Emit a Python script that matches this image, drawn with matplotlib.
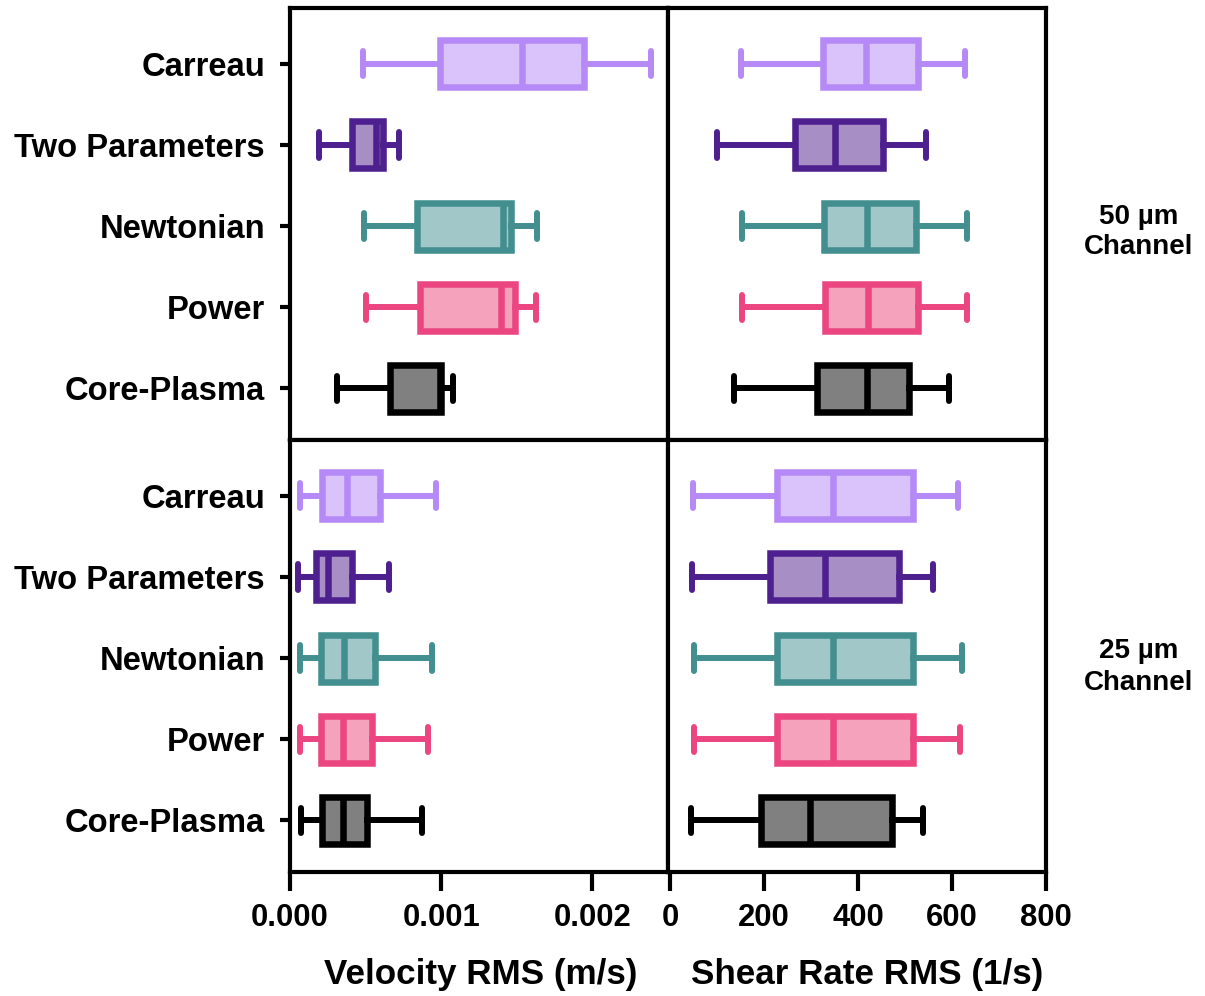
import matplotlib
matplotlib.use("Agg")
import matplotlib.pyplot as plt
from matplotlib.ticker import FixedLocator, FormatStrFormatter

# categories, top to bottom
models = ["Carreau", "Two Parameters", "Newtonian", "Power", "Core-Plasma"]
edge_colors = ["#B58AF7", "#4E1F8E", "#438F90", "#EB4680", "#000000"]
face_colors = ["#D9C3FA", "#A78FC6", "#A2C7C8", "#F5A2BC", "#808080"]

# 50 um channel, velocity RMS (m/s)
vel50_lo = [0.000483, 0.000194, 0.000492, 0.000503, 0.000309]
vel50_q1 = [0.000989, 0.000408, 0.000843, 0.000859, 0.000660]
vel50_med = [0.001534, 0.000570, 0.001406, 0.001395, 0.000993]
vel50_q3 = [0.001947, 0.000618, 0.001461, 0.001486, 0.001000]
vel50_hi = [0.002390, 0.000722, 0.001636, 0.001627, 0.001075]

# 50 um channel, shear rate RMS (1/s)
sr50_lo = [151, 100, 153, 154, 136]
sr50_q1 = [326, 266, 327, 330, 313]
sr50_med = [417, 352, 419, 422, 419]
sr50_q3 = [528, 453, 524, 528, 508]
sr50_hi = [628, 544, 631, 631, 594]

# 25 um channel, velocity RMS (m/s)
vel25_lo = [0.000066, 0.000053, 0.000066, 0.000066, 0.000075]
vel25_q1 = [0.000210, 0.000170, 0.000208, 0.000203, 0.000210]
vel25_med = [0.000375, 0.000254, 0.000360, 0.000353, 0.000353]
vel25_q3 = [0.000596, 0.000413, 0.000561, 0.000545, 0.000508]
vel25_hi = [0.000967, 0.000653, 0.000940, 0.000912, 0.000870]

# 25 um channel, shear rate RMS (1/s)
sr25_lo = [50, 47, 51, 51, 44]
sr25_q1 = [227, 213, 227, 227, 193]
sr25_med = [347, 329, 348, 348, 297]
sr25_q3 = [518, 487, 518, 517, 473]
sr25_hi = [613, 560, 621, 617, 538]

vel_ticks = [0.0, 0.001, 0.002]
sr_ticks = [0, 200, 400, 600, 800]

FONT = "Liberation Sans"


def draw_boxes(ax, lo, q1, med, q3, hi):
    n = len(models)
    positions = [n - 1 - i for i in range(n)]
    for i in range(n):
        stats = [dict(whislo=lo[i], q1=q1[i], med=med[i], q3=q3[i], whishi=hi[i], fliers=[])]
        ec = edge_colors[i]
        ax.bxp(stats, positions=[positions[i]], widths=0.58, capwidths=0.31,
               orientation="horizontal", patch_artist=True, showfliers=False,
               boxprops=dict(facecolor=face_colors[i], edgecolor=ec, linewidth=4.7),
               medianprops=dict(color=ec, linewidth=4.7),
               whiskerprops=dict(color=ec, linewidth=4.3),
               capprops=dict(color=ec, linewidth=4.3, solid_capstyle="round"),
               manage_ticks=False)
    ax.set_ylim(-0.64, 4.69)
    for s in ax.spines.values():
        s.set_linewidth(3.0)
        s.set_color("black")


def main():
    plt.rcParams["font.family"] = [FONT, "DejaVu Sans"]
    plt.rcParams["font.weight"] = "bold"

    fig = plt.figure(figsize=(12.05, 9.96), dpi=100)
    W, H = 1205.0, 996.0
    lx, rx, w = 290 / W, 668 / W, 378 / W
    ty, by, h = (996 - 440) / H, (996 - 872) / H, 432 / H

    ax_tl = fig.add_axes([lx, ty, w, h])
    ax_tr = fig.add_axes([rx, ty, w, h])
    ax_bl = fig.add_axes([lx, by, w, h])
    ax_br = fig.add_axes([rx, by, w, h])

    draw_boxes(ax_tl, vel50_lo, vel50_q1, vel50_med, vel50_q3, vel50_hi)
    draw_boxes(ax_tr, sr50_lo, sr50_q1, sr50_med, sr50_q3, sr50_hi)
    draw_boxes(ax_bl, vel25_lo, vel25_q1, vel25_med, vel25_q3, vel25_hi)
    draw_boxes(ax_br, sr25_lo, sr25_q1, sr25_med, sr25_q3, sr25_hi)

    for ax in (ax_tl, ax_bl):
        ax.set_xlim(0, 0.0025)
    for ax in (ax_tr, ax_br):
        ax.set_xlim(-4, 800)

    # y axis: category names on the left panels only
    ypos = [len(models) - 1 - i for i in range(len(models))]
    for ax in (ax_tl, ax_bl):
        ax.set_yticks(ypos)
        ax.set_yticklabels(models, fontsize=23.6, fontweight="bold")
        ax.tick_params(axis="y", length=7, width=3.0, pad=11)
    for ax in (ax_tr, ax_br):
        ax.set_yticks([])

    # x axis: only on the bottom row
    for ax in (ax_tl, ax_tr):
        ax.set_xticks([])
    ax_bl.xaxis.set_major_locator(FixedLocator(vel_ticks))
    ax_bl.xaxis.set_major_formatter(FormatStrFormatter("%.3f"))
    ax_br.xaxis.set_major_locator(FixedLocator(sr_ticks))
    for ax in (ax_bl, ax_br):
        ax.tick_params(axis="x", length=14, width=3.0, pad=8, labelsize=22.3)
        for lab in ax.get_xticklabels():
            lab.set_fontweight("bold")

    ax_bl.set_xlabel("Velocity RMS (m/s)", fontsize=25.2, fontweight="bold")
    ax_bl.xaxis.set_label_coords((481 - 290) / 378, (872 - 958) / 432)
    ax_br.set_xlabel("Shear Rate RMS (1/s)", fontsize=25.2, fontweight="bold")
    ax_br.xaxis.set_label_coords((867 - 668) / 378, (872 - 958) / 432)

    fig.text(1139 / W, 1 - 232 / H, "50 µm\nChannel", ha="center", va="center",
             fontsize=20, fontweight="bold", linespacing=1.25)
    fig.text(1139 / W, 1 - 667 / H, "25 µm\nChannel", ha="center", va="center",
             fontsize=20, fontweight="bold", linespacing=1.25)

    fig.savefig("out.png", dpi=100, facecolor="white")


if __name__ == "__main__":
    main()
